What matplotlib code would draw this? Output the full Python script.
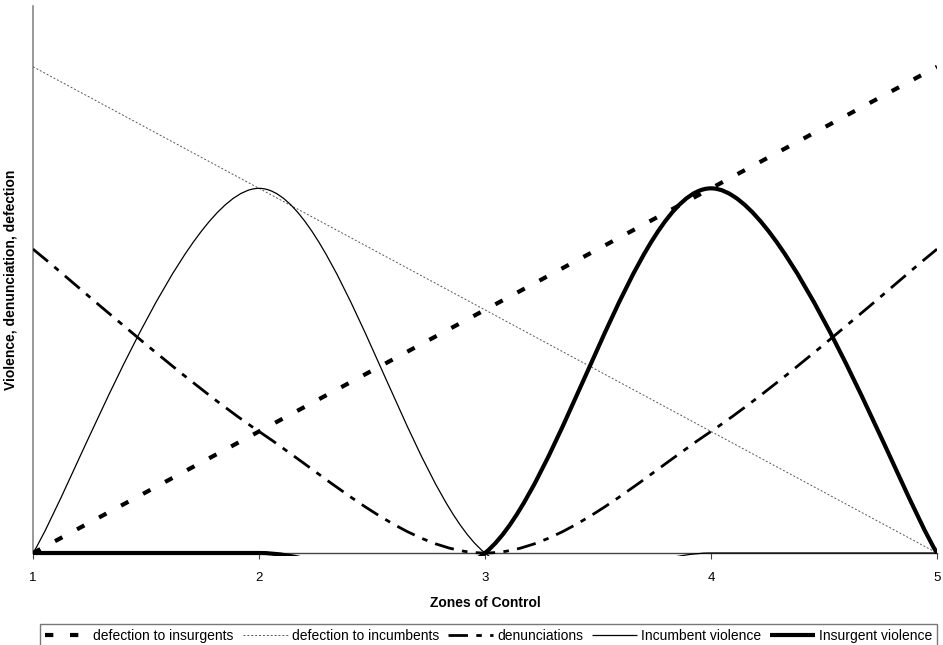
import matplotlib
matplotlib.use("Agg")
import matplotlib.pyplot as plt
from matplotlib.path import Path
from matplotlib.patches import PathPatch, Rectangle
from matplotlib.lines import Line2D

plt.rcParams['font.family'] = ['Liberation Sans', 'DejaVu Sans']

# ---- data ----
zones = [1, 2, 3, 4, 5]
defection_insurgents = [0, 2, 4, 6, 8]
defection_incumbents = [8, 6, 4, 2, 0]
denunciations = [5, 2, 0, 2, 5]
incumbent_violence = [0, 6, 0, 0, 0]
insurgent_violence = [0, 0, 0, 6, 0]
labels = ["defection to insurgents", "defection to incumbents", "denunciations",
          "Incumbent violence", "Insurgent violence"]


def smooth_path(xs, ys):
    """Excel-style smoothed line: cubic Bezier segments through the data points."""
    n = len(xs)
    verts = [(xs[0], ys[0])]
    codes = [Path.MOVETO]
    for i in range(n - 1):
        i0 = max(i - 1, 0)
        i3 = min(i + 2, n - 1)
        c1 = (xs[i] + (xs[i + 1] - xs[i0]) / 6.0, ys[i] + (ys[i + 1] - ys[i0]) / 6.0)
        c2 = (xs[i + 1] - (xs[i3] - xs[i]) / 6.0, ys[i + 1] - (ys[i3] - ys[i]) / 6.0)
        verts += [c1, c2, (xs[i + 1], ys[i + 1])]
        codes += [Path.CURVE4] * 3
    return Path(verts, codes)


fig = plt.figure(figsize=(9.43, 6.45), dpi=100)
ax = fig.add_axes([33 / 943, 1 - 553 / 645, (937 - 33) / 943, (553 - 6) / 645])
ax.set_xlim(1, 5)
ax.set_ylim(0, 9)

clip = Rectangle((0, -0.006), 1, 1.006, transform=ax.transAxes, visible=False)
ax.add_patch(clip)

styles = [
    dict(color='black', lw=3.0, ls=(0, (2.0, 4.0))),
    dict(color='#555555', lw=0.7, ls=(0, (2.0, 2.0))),
    dict(color='black', lw=2.0, ls=(0, (7.0, 3.0, 2.0, 3.0))),
    dict(color='black', lw=0.9, ls='-'),
    dict(color='black', lw=3.0, ls='-'),
]
series = [defection_insurgents, defection_incumbents, denunciations,
          incumbent_violence, insurgent_violence]

handles = []
for ys, st, lab in zip(series, styles, labels):
    p = PathPatch(smooth_path(zones, ys), fill=False, edgecolor=st['color'],
                  linewidth=st['lw'], linestyle=st['ls'], joinstyle='round',
                  capstyle='butt', zorder=3)
    ax.add_patch(p)
    p.set_clip_path(clip)
    handles.append(Line2D([], [], color=st['color'], lw=st['lw'], ls=st['ls'],
                          solid_capstyle='butt', dash_capstyle='butt'))

for s in ['top', 'right']:
    ax.spines[s].set_visible(False)
ax.spines['left'].set_color('#888888')
ax.spines['left'].set_linewidth(1.2)
ax.spines['bottom'].set_color('#444444')
ax.spines['bottom'].set_linewidth(1.0)
ax.set_yticks([])
ax.set_xticks(zones)
ax.set_xticklabels([str(z) for z in zones], fontsize=9.5)
ax.tick_params(axis='x', direction='out', length=4, width=0.8, color='#444444', pad=10)

ax.set_xlabel("Zones of Control", fontsize=10, fontweight='bold', labelpad=8)
ax.set_ylabel("Violence, denunciation, defection", fontsize=10, fontweight='bold', labelpad=11)

leg = fig.legend(handles, labels, loc='upper left', ncol=5, mode='expand',
                 bbox_to_anchor=(40 / 943, 1 - 624 / 645, (937 - 40) / 943, 0.0),
                 fontsize=10, frameon=True, fancybox=False,
                 edgecolor='#777777', framealpha=1, handlelength=3.2,
                 handletextpad=0.3, columnspacing=0.5, borderpad=0.35,
                 borderaxespad=0)
leg.get_frame().set_linewidth(1.0)

fig.savefig("out.png", dpi=100)
